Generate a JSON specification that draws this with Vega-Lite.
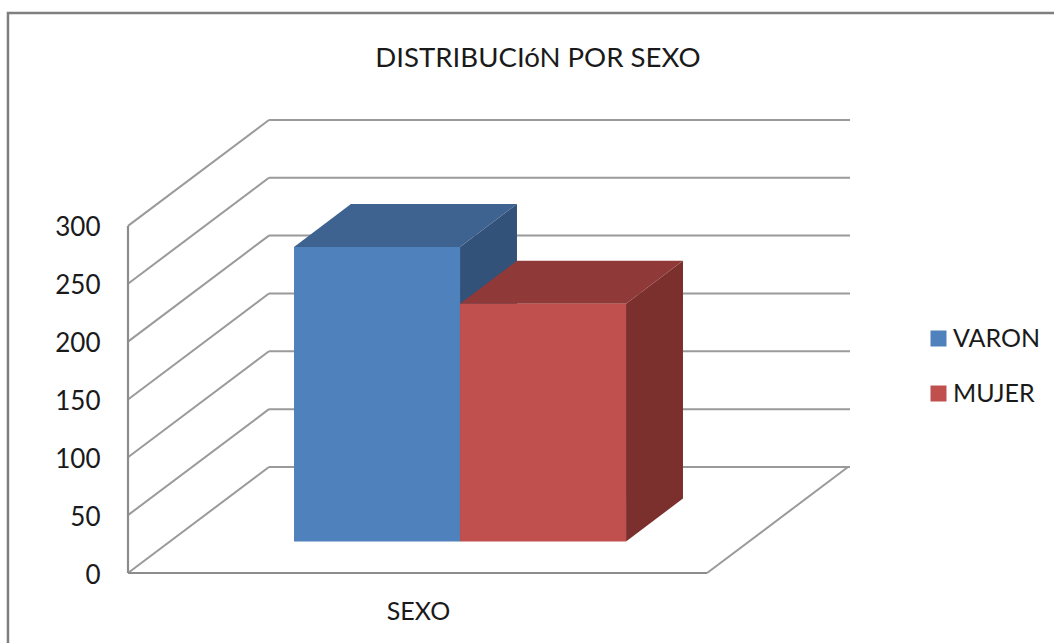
{
"$schema":"https://vega.github.io/schema/vega-lite/v6.json",
"autosize":{"type":"none"},
"padding":{"left":128,"top":119,"right":204,"bottom":70},
"width":722,"height":454,
"background":"white",
"config":{"view":{"stroke":null},"font":"Lato"},
"title":{"text":"DISTRIBUCIóN POR SEXO","anchor":"middle","frame":"group","dx":49,"offset":-61,"fontSize":27.6,"fontWeight":"normal","color":"#1a1a1a","font":"Lato"},
"datasets":{
"bars":[{"series":"VARON","value":254.5},{"series":"MUJER","value":205.5}],
"ticks":[{"tick":0},{"tick":50},{"tick":100},{"tick":150},{"tick":200},{"tick":250},{"tick":300}]
},
"encoding":{
"x":{"field":"xu","type":"quantitative","stack":null,"scale":{"domain":[-1,3.349],"nice":false,"zero":false},
"axis":{"domain":false,"ticks":false,"labels":false,"grid":false,"title":"SEXO","titleX":290,"titleY":26,"titleFontSize":25,"titleFontWeight":"normal","titleColor":"#1a1a1a","titleFont":"Lato"}},
"y":{"field":"yu","type":"quantitative","stack":null,"scale":{"domain":[0,392.4],"nice":false,"zero":false},
"axis":{"values":[0,50,100,150,200,250,300],"domain":false,"ticks":false,"grid":false,"title":null,"labelPadding":28,"labelOffset":2,"labelFontSize":26,"labelColor":"#1a1a1a","labelFont":"Lato"}}
},
"layer":[
{"data":{"values":[{"shape":"frame"}]},
"transform":[{"calculate":"-1.723","as":"xu"},{"calculate":"4.7","as":"xu2"},{"calculate":"484","as":"yu"},{"calculate":"-80","as":"yu2"}],
"mark":{"type":"rect","fill":null,"stroke":"#7f7f7f","strokeWidth":2.5,"clip":false},
"encoding":{"x2":{"field":"xu2"},"y2":{"field":"yu2"}}},
{"data":{"name":"ticks"},
"transform":[{"calculate":"-0.151","as":"xu"},{"calculate":"3.349","as":"xu2"},{"calculate":"datum.tick+91.6","as":"yu"}],
"mark":{"type":"rule","stroke":"#9a9a9a","strokeWidth":2},
"encoding":{"x2":{"field":"xu2"}}},
{"data":{"name":"ticks"},
"transform":[{"calculate":"[0,1]","as":"depth"},{"flatten":["depth"]},{"calculate":"-1+datum.depth*0.849","as":"xu"},{"calculate":"datum.tick+datum.depth*91.6","as":"yu"}],
"mark":{"type":"line","stroke":"#9a9a9a","strokeWidth":2},
"encoding":{"detail":{"field":"tick","type":"quantitative"}}},
{"data":{"values":[{"edge":"wall"}]},
"transform":[{"calculate":"-1","as":"xu"},{"calculate":"0","as":"yu"},{"calculate":"300","as":"yu2"}],
"mark":{"type":"rule","stroke":"#8c8c8c","strokeWidth":2.2},
"encoding":{"y2":{"field":"yu2"}}},
{"data":{"values":[{"edge":"floor front"}]},
"transform":[{"calculate":"-1","as":"xu"},{"calculate":"2.488","as":"xu2"},{"calculate":"0","as":"yu"}],
"mark":{"type":"rule","stroke":"#8c8c8c","strokeWidth":2.2},
"encoding":{"x2":{"field":"xu2"}}},
{"data":{"values":[{"edge":"floor right"}]},
"transform":[{"calculate":"[0,1]","as":"depth"},{"flatten":["depth"]},{"calculate":"2.488+datum.depth*0.849","as":"xu"},{"calculate":"datum.depth*91.6","as":"yu"}],
"mark":{"type":"line","stroke":"#9a9a9a","strokeWidth":2}},
{"data":{"name":"bars"},
"transform":[{"calculate":"datum.series==='VARON'?0:1","as":"slot"},{"calculate":"[0,1]","as":"depth"},{"flatten":["depth"]},
{"calculate":"datum.slot+1+datum.depth*0.343","as":"xu"},{"calculate":"27.2+datum.depth*37.2","as":"yu"},{"calculate":"27.2+datum.value+datum.depth*37.2","as":"yu2"}],
"mark":{"type":"area","orient":"vertical"},
"encoding":{"y2":{"field":"yu2"},"color":{"field":"series","type":"nominal","legend":null,"scale":{"domain":["VARON","MUJER"],"range":["#32527A","#7B302E"]}}}},
{"data":{"name":"bars"},
"transform":[{"calculate":"datum.series==='VARON'?0:1","as":"slot"},{"calculate":"[0,1]","as":"depth"},{"flatten":["depth"]},
{"calculate":"datum.slot+datum.depth*0.343","as":"xu"},{"calculate":"datum.slot+1+datum.depth*0.343","as":"xu2"},{"calculate":"27.2+datum.value+datum.depth*37.2","as":"yu"}],
"mark":{"type":"area","orient":"horizontal"},
"encoding":{"x2":{"field":"xu2"},"color":{"field":"series","type":"nominal","legend":null,"scale":{"domain":["VARON","MUJER"],"range":["#3E6391","#8F3A38"]}}}},
{"data":{"name":"bars"},
"transform":[{"calculate":"datum.series==='VARON'?0:1","as":"slot"},{"calculate":"datum.slot","as":"xu"},{"calculate":"datum.slot+1","as":"xu2"},{"calculate":"27.2","as":"yu2"},{"calculate":"27.2+datum.value","as":"yu"}],
"mark":{"type":"rect"},
"encoding":{"x2":{"field":"xu2"},"y2":{"field":"yu2"},"color":{"field":"series","type":"nominal","sort":null,
"scale":{"domain":["VARON","MUJER"],"range":["#4F81BD","#C0504D"]},
"legend":{"title":null,"orient":"none","legendX":798,"legendY":207,"padding":0,"symbolType":"square","symbolSize":256,"symbolStrokeWidth":0,"symbolOpacity":1,"labelFontSize":25,"labelColor":"#1a1a1a","labelFont":"Lato","labelOffset":2,"rowPadding":29}}}}
],
"resolve":{"scale":{"color":"independent"}}
}
